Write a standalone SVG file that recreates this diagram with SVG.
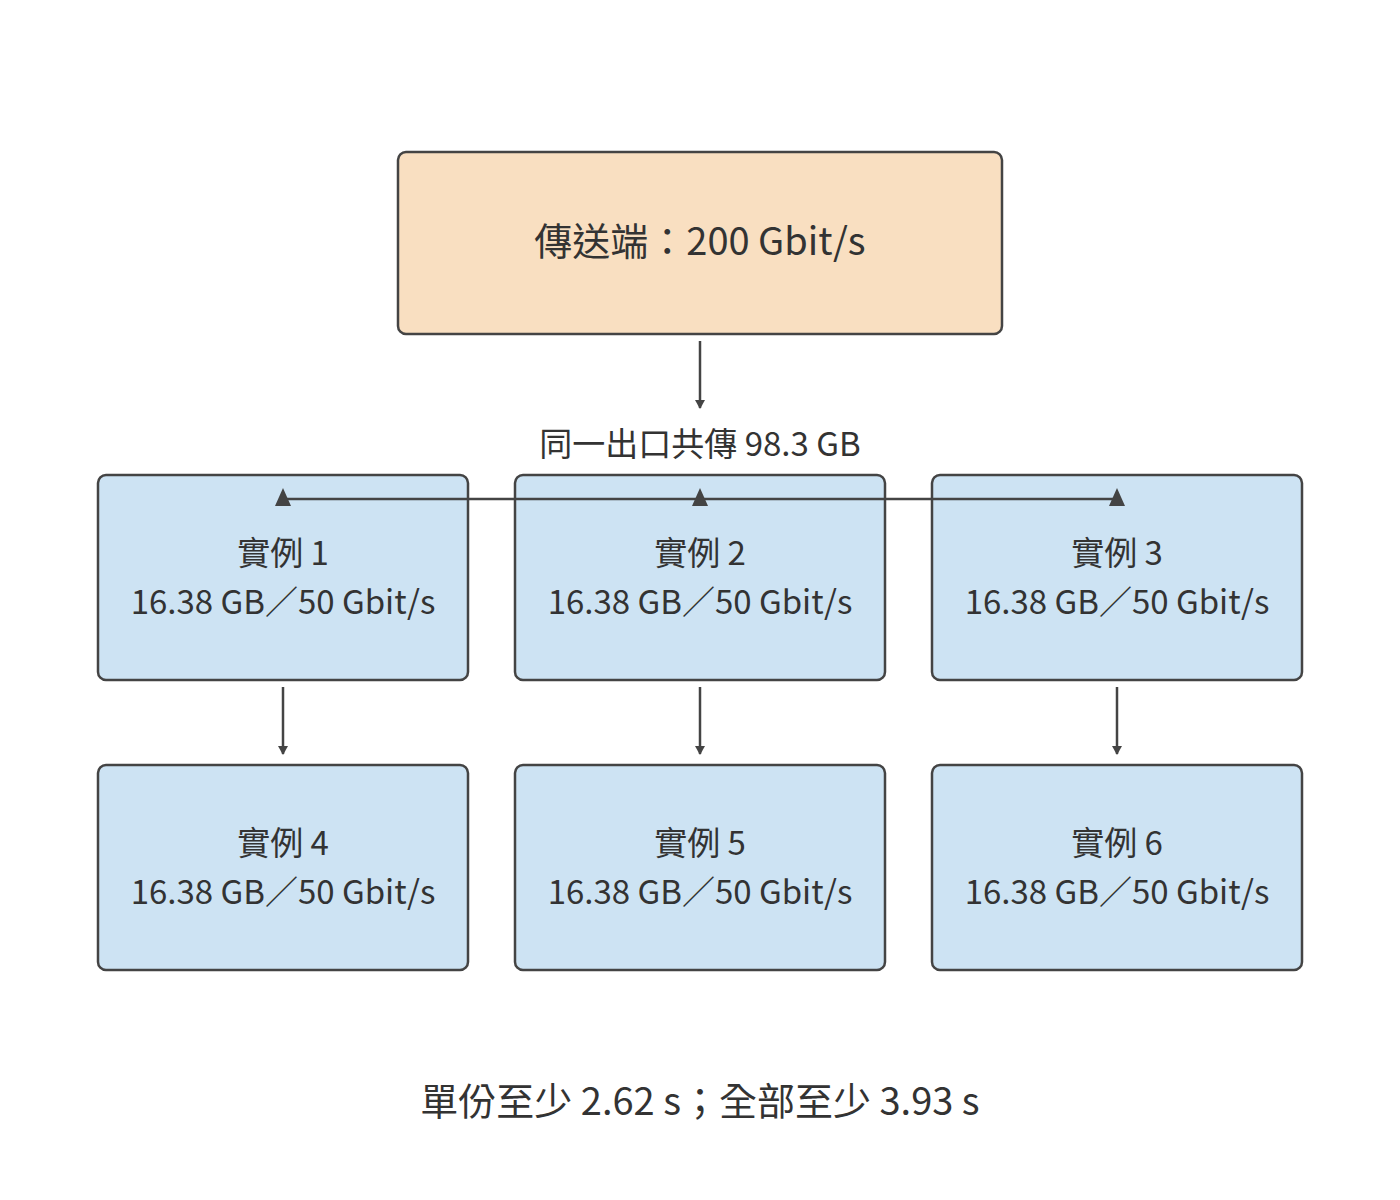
<svg xmlns="http://www.w3.org/2000/svg" width="1400" height="1200" viewBox="0 0 1400 1200">
<defs>
<style>
text{font-family:"Noto Sans CJK TC","Noto Sans",sans-serif;fill:#333;text-anchor:middle}
.n{fill:#cde3f3;stroke:#444;stroke-width:2.5}
.c{stroke:#444;stroke-width:2.5;fill:none}
.t{font-size:33px}
</style>
<marker id="a" markerWidth="10" markerHeight="10" refX="8" refY="5" orient="auto" markerUnits="userSpaceOnUse"><path d="M0,0L9,5L0,10z" fill="#444"/></marker>
</defs>
<rect width="1400" height="1200" fill="#fff"/>
<g id="sender"><rect x="398" y="152" width="604" height="182" rx="8" fill="#f9dfc1" stroke="#444" stroke-width="2.5"/><text x="700" y="255" font-size="38">傳送端：200 Gbit/s</text></g>
<g id="n1"><rect class="n" x="98" y="475" width="370" height="205" rx="8"/><text class="t" x="283" y="565">實例 1</text><text class="t" x="283" y="614">16.38 GB／50 Gbit/s</text></g>
<g id="n2"><rect class="n" x="515" y="475" width="370" height="205" rx="8"/><text class="t" x="700" y="565">實例 2</text><text class="t" x="700" y="614">16.38 GB／50 Gbit/s</text></g>
<g id="n3"><rect class="n" x="932" y="475" width="370" height="205" rx="8"/><text class="t" x="1117" y="565">實例 3</text><text class="t" x="1117" y="614">16.38 GB／50 Gbit/s</text></g>
<g id="n4"><rect class="n" x="98" y="765" width="370" height="205" rx="8"/><text class="t" x="283" y="855">實例 4</text><text class="t" x="283" y="904">16.38 GB／50 Gbit/s</text></g>
<g id="n5"><rect class="n" x="515" y="765" width="370" height="205" rx="8"/><text class="t" x="700" y="855">實例 5</text><text class="t" x="700" y="904">16.38 GB／50 Gbit/s</text></g>
<g id="n6"><rect class="n" x="932" y="765" width="370" height="205" rx="8"/><text class="t" x="1117" y="855">實例 6</text><text class="t" x="1117" y="904">16.38 GB／50 Gbit/s</text></g>
<g id="connectors">
<path class="c" d="M700,341V408" marker-end="url(#a)"/>
<text class="t" x="700" y="456">同一出口共傳 98.3 GB</text>
<path class="c" d="M283,499H1117"/>
<path d="M283,488l-8,18h16zM700,488l-8,18h16zM1117,488l-8,18h16z" fill="#444"/>
<path class="c" d="M283,687V754" marker-end="url(#a)"/>
<path class="c" d="M700,687V754" marker-end="url(#a)"/>
<path class="c" d="M1117,687V754" marker-end="url(#a)"/>
</g>
<text x="700" y="1115" font-size="38">單份至少 2.62 s；全部至少 3.93 s</text>
</svg>
